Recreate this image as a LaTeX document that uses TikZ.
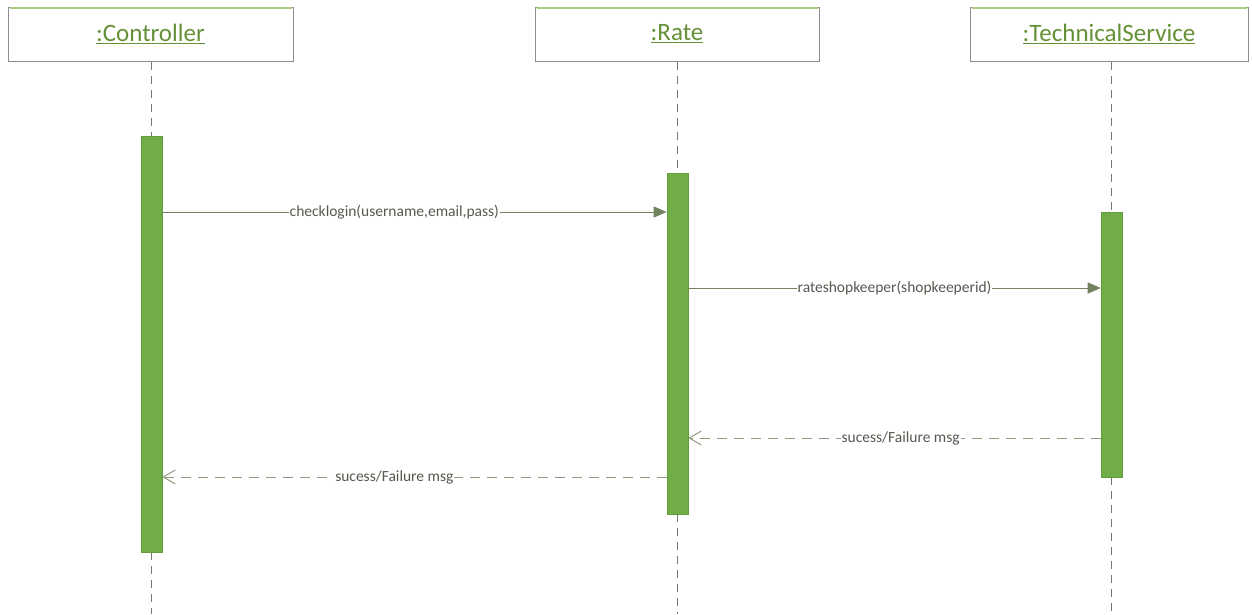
\documentclass[tikz,border=0pt]{standalone}
\usepackage{fontspec}
\setmainfont{Carlito}
\usetikzlibrary{arrows.meta}
\definecolor{bargreen}{RGB}{112,173,71}
\definecolor{barborder}{RGB}{98,155,60}
\definecolor{headtext}{RGB}{100,145,55}
\definecolor{boxline}{RGB}{140,140,140}
\definecolor{boxtop}{RGB}{170,205,130}
\definecolor{msgline}{RGB}{115,130,95}
\definecolor{msgtext}{RGB}{85,90,80}
\definecolor{lifeline}{RGB}{120,120,120}
\tikzset{
  headbox/.style={draw=boxline, line width=1pt, fill=white, minimum height=54, inner sep=0pt,
    font=\fontsize{25}{29}\selectfont, text=headtext},
  actbar/.style={draw=barborder, fill=bargreen, minimum width=21, inner sep=0pt, line width=0.6pt},
  lifedash/.style={draw=lifeline, line width=0.9pt, dash pattern=on 8pt off 6pt},
  callmsg/.style={draw=msgline, line width=1pt, -{Triangle[length=13pt,width=11pt,fill=msgline]}},
  retmsg/.style={draw=msgline!80, line width=1pt, dash pattern=on 10pt off 7pt, -{Straight Barb[length=12pt,width=14pt]}},
  msglabel/.style={fill=white, inner sep=1pt, text=msgtext, font=\fontsize{15.5}{18}\selectfont}
}
\begin{document}
\begin{tikzpicture}[x=1pt,y=-1pt]
\useasboundingbox[fill=white] (0,0) rectangle (1252,614);
% header boxes
\node[headbox, minimum width=285] (ctrl) at (150.5,34) {\underline{:Controller}};
\node[headbox, minimum width=284] (rate) at (677,34) {\underline{:Rate}};
\node[headbox, minimum width=278] (tech) at (1109,34) {\underline{:TechnicalService}};
\foreach \n in {ctrl,rate,tech}{
  \draw[boxtop, line width=2pt] ([xshift=2pt,yshift=-1.5pt]\n.north west) -- ([xshift=-2pt,yshift=-1.5pt]\n.north east);
}
% activation bars
\node[actbar, minimum height=416] (cbar) at (151.5,344) {};
\node[actbar, minimum height=341] (rbar) at (677.5,343.5) {};
\node[actbar, minimum height=265] (tbar) at (1111.5,344.5) {};
% lifeline ends
\coordinate (cend) at (151.5,614);
\coordinate (rend) at (677.5,614);
\coordinate (tend) at (1111.5,614);
% lifelines
\draw[lifedash] (cbar.north |- ctrl.south) -- (cbar.north);
\draw[lifedash] (cbar.south) -- (cend);
\draw[lifedash] (rbar.north |- rate.south) -- (rbar.north);
\draw[lifedash] (rbar.south) -- (rend);
\draw[lifedash] (tbar.north |- tech.south) -- (tbar.north);
\draw[lifedash] (tbar.south) -- (tend);
% message levels
\coordinate (m1) at (0,212);
\coordinate (m2) at (0,288);
\coordinate (m3) at (0,438);
\coordinate (m4) at (0,477);
% messages
\draw[callmsg] (cbar.east |- m1) -- node[msglabel, pos=0.46] (l1) {checklogin(username,email,pass)} (rbar.west |- m1);
\draw[callmsg] (rbar.east |- m2) -- node[msglabel, pos=0.5] (l2) {rateshopkeeper(shopkeeperid)} (tbar.west |- m2);
\draw[retmsg] (tbar.west |- m3) -- node[msglabel, pos=0.485] (l3) {sucess/Failure msg} (rbar.east |- m3);
\draw[retmsg] (rbar.west |- m4) -- node[msglabel, pos=0.54] (l4) {sucess/Failure msg} (cbar.east |- m4);
\end{tikzpicture}
\end{document}
